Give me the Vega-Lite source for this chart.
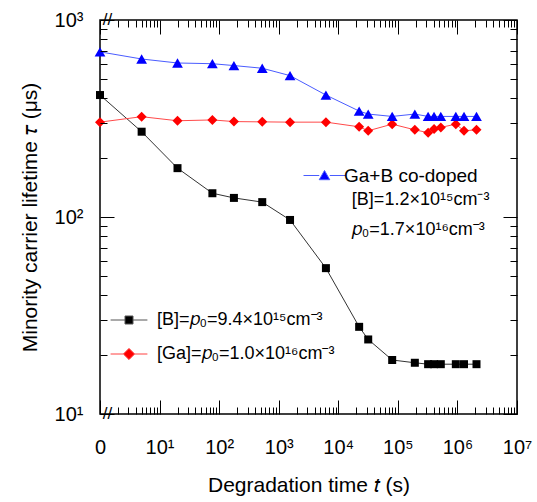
{
  "$schema": "https://vega.github.io/schema/vega-lite/v6.json",
  "width": 417,
  "height": 394,
  "autosize": {"type": "none"},
  "padding": {"left": 100, "top": 20, "right": 20, "bottom": 88},
  "background": "white",
  "config": {
    "font": "Liberation Sans",
    "view": {"stroke": "black", "strokeWidth": 1.5},
    "axis": {"domain": false, "labelColor": "black", "titleColor": "black", "titleFontWeight": "normal", "gridColor": "black", "gridOpacity": 1, "gridWidth": 1, "zindex": 1},
    "axisLeft": {"labelPadding": 17},
    "axisBottom": {"labelPadding": 23}
  },
  "data": {
    "values": [
      {"series": "B", "t": 1, "tau": 416},
      {"series": "B", "t": 5, "tau": 271},
      {"series": "B", "t": 20, "tau": 177},
      {"series": "B", "t": 77, "tau": 132},
      {"series": "B", "t": 177, "tau": 125},
      {"series": "B", "t": 529, "tau": 119},
      {"series": "B", "t": 1549, "tau": 96.6},
      {"series": "B", "t": 6200, "tau": 55},
      {"series": "B", "t": 22400, "tau": 27.7},
      {"series": "B", "t": 31800, "tau": 23.9},
      {"series": "B", "t": 80300, "tau": 18.8},
      {"series": "B", "t": 192800, "tau": 18.2},
      {"series": "B", "t": 322000, "tau": 17.9},
      {"series": "B", "t": 405000, "tau": 17.9},
      {"series": "B", "t": 526000, "tau": 17.9},
      {"series": "B", "t": 940000, "tau": 17.9},
      {"series": "B", "t": 1290000, "tau": 17.9},
      {"series": "B", "t": 2090000, "tau": 17.9},
      {"series": "Ga+B", "t": 1, "tau": 689},
      {"series": "Ga+B", "t": 5, "tau": 634},
      {"series": "Ga+B", "t": 20, "tau": 605},
      {"series": "Ga+B", "t": 77, "tau": 600},
      {"series": "Ga+B", "t": 177, "tau": 587},
      {"series": "Ga+B", "t": 529, "tau": 569},
      {"series": "Ga+B", "t": 1549, "tau": 522},
      {"series": "Ga+B", "t": 6200, "tau": 416},
      {"series": "Ga+B", "t": 22400, "tau": 345},
      {"series": "Ga+B", "t": 31800, "tau": 333},
      {"series": "Ga+B", "t": 80300, "tau": 324},
      {"series": "Ga+B", "t": 192800, "tau": 333},
      {"series": "Ga+B", "t": 322000, "tau": 324},
      {"series": "Ga+B", "t": 405000, "tau": 324},
      {"series": "Ga+B", "t": 526000, "tau": 324},
      {"series": "Ga+B", "t": 940000, "tau": 324},
      {"series": "Ga+B", "t": 1290000, "tau": 324},
      {"series": "Ga+B", "t": 2090000, "tau": 324},
      {"series": "Ga", "t": 1, "tau": 303},
      {"series": "Ga", "t": 5, "tau": 323},
      {"series": "Ga", "t": 20, "tau": 308},
      {"series": "Ga", "t": 77, "tau": 311},
      {"series": "Ga", "t": 177, "tau": 305},
      {"series": "Ga", "t": 529, "tau": 304},
      {"series": "Ga", "t": 1549, "tau": 303},
      {"series": "Ga", "t": 6200, "tau": 303},
      {"series": "Ga", "t": 22400, "tau": 287},
      {"series": "Ga", "t": 31800, "tau": 274},
      {"series": "Ga", "t": 80300, "tau": 296},
      {"series": "Ga", "t": 192800, "tau": 277},
      {"series": "Ga", "t": 322000, "tau": 268},
      {"series": "Ga", "t": 405000, "tau": 280},
      {"series": "Ga", "t": 526000, "tau": 285},
      {"series": "Ga", "t": 940000, "tau": 296},
      {"series": "Ga", "t": 1290000, "tau": 274},
      {"series": "Ga", "t": 2090000, "tau": 277}
    ]
  },
  "layer": [
    {
      "mark": {"type": "line", "strokeWidth": 1},
      "encoding": {
        "x": {
          "field": "t", "type": "quantitative",
          "scale": {"type": "log", "domain": [1, 10000000], "nice": false},
          "axis": {
            "orient": "bottom",
            "values": [1, 10, 100, 1000, 10000, 100000, 1000000, 10000000],
            "labelExpr": "datum.value == 1 ? '0' : '10' + ['⁰','¹','²','³','⁴','⁵','⁶','⁷'][round(log(datum.value)/LN10)]",
            "labelFontSize": 20,
            "labelPadding": 23,
            "labelOverlap": false,
            "labelBound": false,
            "labelFlush": false,
            "ticks": false,
            "grid": true,
            "gridDash": [14, 366],
            "zindex": 1,
            "title": "Degradation time 𝑡 (s)",
            "titleFontSize": 21,
            "titlePadding": 17
          }
        },
        "y": {
          "field": "tau", "type": "quantitative",
          "scale": {"type": "log", "domain": [10, 1000], "nice": false},
          "axis": {
            "orient": "left",
            "values": [10, 100, 1000],
            "labelExpr": "'10' + ['⁰','¹','²','³'][round(log(datum.value)/LN10)]",
            "labelFontSize": 20,
            "labelPadding": 17,
            "labelOverlap": false,
            "labelBound": false,
            "labelFlush": false,
            "ticks": false,
            "grid": true,
            "gridDash": [14, 389],
            "zindex": 1,
            "title": "Minority carrier lifetime 𝜏 (μs)",
            "titleFontSize": 21,
            "titlePadding": 14
          }
        },
        "color": {
          "field": "series", "type": "nominal",
          "scale": {"domain": ["Ga+B", "B", "Ga"], "range": ["#4a5cff", "#333333", "#ff4a4a"]},
          "legend": null
        }
      }
    },
    {
      "transform": [{"filter": "datum.series == 'B'"}],
      "mark": {"type": "point", "filled": true, "opacity": 1, "size": 64, "shape": "square"},
      "encoding": {
        "x": {"field": "t", "type": "quantitative", "axis": {"orient": "top", "values": [2,3,4,5,6,7,8,9,20,30,40,50,60,70,80,90,200,300,400,500,600,700,800,900,2000,3000,4000,5000,6000,7000,8000,9000,20000,30000,40000,50000,60000,70000,80000,90000,200000,300000,400000,500000,600000,700000,800000,900000,2000000,3000000,4000000,5000000,6000000,7000000,8000000,9000000], "labels": false, "ticks": false, "domain": false, "title": null, "grid": true, "gridDash": [7, 380], "zindex": 1}},
        "y": {"field": "tau", "type": "quantitative", "axis": {"orient": "right", "values": [20,30,40,50,60,70,80,90,200,300,400,500,600,700,800,900], "labels": false, "ticks": false, "domain": false, "title": null, "grid": true, "gridDash": [7, 403], "zindex": 1}},
        "fill": {
          "field": "series", "type": "nominal",
          "scale": {"domain": ["B"], "range": ["#000000"]},
          "legend": {
            "orient": "none", "legendX": 20, "legendY": 291, "title": null, "padding": 0,
            "labelExpr": "'[B]=𝑝₀=9.4×10¹⁵cm⁻³'",
            "labelFontSize": 18, "labelColor": "black", "labelOffset": 19, "labelLimit": 400,
            "symbolSize": 64, "symbolStrokeWidth": 1, "symbolStrokeColor": "#555555", "symbolType": "M-4.6,0H-1M1,0H4.6M-1,-1H1V1H-1Z",
            "encode": {
              "symbols": {
                "shape": {"value": "M-4.6,0H-1M1,0H4.6M-1,-1H1V1H-1Z"},
                "stroke": {"value": "#555555"},
                "strokeWidth": {"value": 1},
                "opacity": {"value": 1}
              }
            }
          }
        }
      }
    },
    {
      "transform": [{"filter": "datum.series == 'Ga'"}],
      "mark": {"type": "point", "filled": true, "opacity": 1, "size": 64, "shape": "M0,-1.25L1.25,0L0,1.25L-1.25,0Z"},
      "encoding": {
        "x": {"field": "t", "type": "quantitative", "axis": null},
        "y": {"field": "tau", "type": "quantitative", "axis": null},
        "fill": {
          "field": "series", "type": "nominal",
          "scale": {"domain": ["Ga"], "range": ["#ff0000"]},
          "legend": {
            "orient": "none", "legendX": 20, "legendY": 325, "title": null, "padding": 0,
            "labelExpr": "'[Ga]=𝑝₀=1.0×10¹⁶cm⁻³'",
            "labelFontSize": 18, "labelColor": "black", "labelOffset": 19, "labelLimit": 400,
            "symbolSize": 64, "symbolStrokeWidth": 1, "symbolStrokeColor": "#ff4040", "symbolType": "M-4.6,0H-1.4M1.4,0H4.6M0,-1.4L1.4,0L0,1.4L-1.4,0Z",
            "encode": {
              "symbols": {
                "shape": {"value": "M-4.6,0H-1.4M1.4,0H4.6M0,-1.4L1.4,0L0,1.4L-1.4,0Z"},
                "stroke": {"value": "#ff4040"},
                "strokeWidth": {"value": 1},
                "opacity": {"value": 1}
              }
            }
          }
        }
      }
    },
    {
      "transform": [{"filter": "datum.series == 'Ga+B'"}],
      "mark": {"type": "point", "filled": true, "shape": "triangle-up", "size": 115, "opacity": 1},
      "encoding": {
        "x": {"field": "t", "type": "quantitative", "axis": null},
        "y": {"field": "tau", "type": "quantitative", "axis": null},
        "fill": {
          "field": "series", "type": "nominal",
          "scale": {"domain": ["Ga+B"], "range": ["#0000ff"]},
          "legend": {
            "orient": "none", "legendX": 215, "legendY": 146, "title": null, "padding": 0,
            "labelExpr": "'Ga+B co-doped'",
            "labelFontSize": 19, "labelColor": "black", "labelOffset": 10, "labelLimit": 400,
            "symbolSize": 110, "symbolStrokeWidth": 1, "symbolStrokeColor": "#4a5cff", "symbolType": "M-4,0H-1M1,0H4M0,-0.95L1,0.8L-1,0.8Z",
            "encode": {
              "symbols": {
                "shape": {"value": "M-4,0H-1M1,0H4M0,-0.95L1,0.8L-1,0.8Z"},
                "stroke": {"value": "#4a5cff"},
                "strokeWidth": {"value": 1},
                "opacity": {"value": 1}
              }
            }
          }
        }
      }
    },
    {
      "data": {"values": [{}]},
      "mark": {"type": "text", "align": "left", "baseline": "middle", "fontSize": 18, "lineHeight": 30, "color": "black", "text": ["[B]=1.2×10¹⁵cm⁻³", "𝑝₀=1.7×10¹⁶cm⁻³"]},
      "encoding": {
        "x": {"datum": 16900, "type": "quantitative", "axis": null},
        "y": {"datum": 122, "type": "quantitative", "axis": null}
      }
    },
    {
      "data": {"values": [{}]},
      "mark": {"type": "text", "align": "center", "baseline": "middle", "fontSize": 17, "color": "black", "text": "//"},
      "encoding": {
        "x": {"datum": 1.34, "type": "quantitative", "axis": null},
        "y": {"datum": 10, "type": "quantitative", "axis": null}
      }
    },
    {
      "data": {"values": [{}]},
      "mark": {"type": "text", "align": "center", "baseline": "middle", "fontSize": 17, "color": "black", "text": "//"},
      "encoding": {
        "x": {"datum": 1.34, "type": "quantitative", "axis": null},
        "y": {"datum": 1000, "type": "quantitative", "axis": null}
      }
    }
  ],
  "resolve": {"scale": {"fill": "independent"}}
}
